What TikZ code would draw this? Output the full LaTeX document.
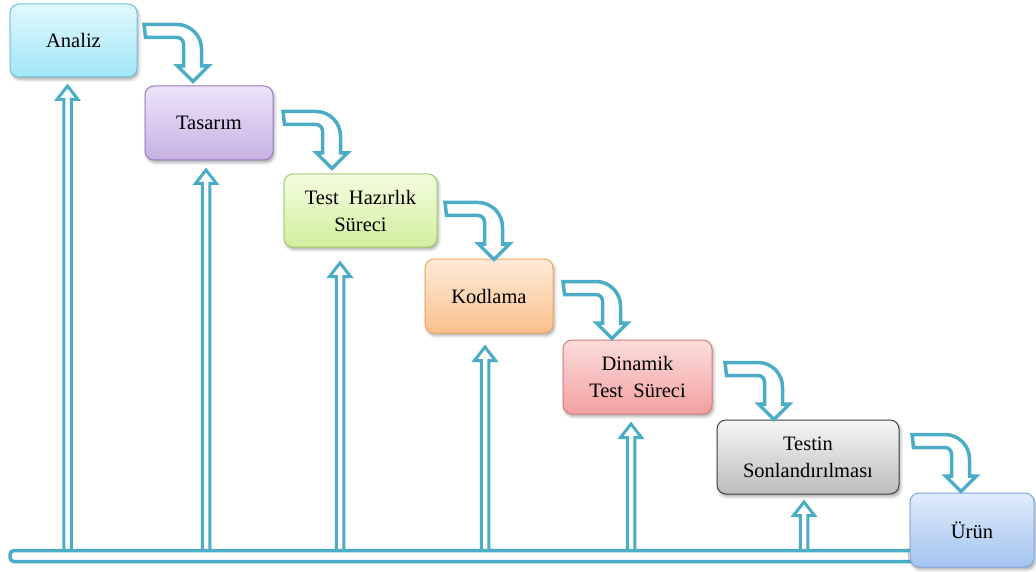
\documentclass[tikz,border=0pt]{standalone}
\usepackage{fontspec}
\setmainfont{Liberation Serif}
\usetikzlibrary{calc,shadows.blur}

\definecolor{flow}{HTML}{4BACC6}
\definecolor{anaTop}{HTML}{E2F8FE}\definecolor{anaBot}{HTML}{A2E6F8}\definecolor{anaLine}{HTML}{6CC3D9}
\definecolor{tasTop}{HTML}{EDE5FA}\definecolor{tasBot}{HTML}{C6B0E2}\definecolor{tasLine}{HTML}{9A7BC2}
\definecolor{hazTop}{HTML}{F3FCE0}\definecolor{hazBot}{HTML}{D2EF9E}\definecolor{hazLine}{HTML}{A6CB68}
\definecolor{kodTop}{HTML}{FEEBD8}\definecolor{kodBot}{HTML}{FBC08C}\definecolor{kodLine}{HTML}{F2A660}
\definecolor{dinTop}{HTML}{FCDCDC}\definecolor{dinBot}{HTML}{F2A0A0}\definecolor{dinLine}{HTML}{D07E7E}
\definecolor{sonTop}{HTML}{F6F6F6}\definecolor{sonBot}{HTML}{BCBCBC}\definecolor{sonLine}{HTML}{404040}
\definecolor{urnTop}{HTML}{E0ECFC}\definecolor{urnBot}{HTML}{A4C4F0}\definecolor{urnLine}{HTML}{7EA6DA}

\tikzset{
  stage/.style={draw, line width=1pt, rounded corners=9pt, inner sep=0pt,
    align=center, font=\fontsize{20.5}{27}\selectfont,
    blur shadow={shadow xshift=1.5pt, shadow yshift=-2.5pt,
      shadow blur radius=3pt, shadow opacity=35}},
  stagecol/.style n args={3}{top color=#1, bottom color=#2, draw=#3},
  flowline/.style={draw=flow, line width=3.5pt, fill=white, line join=miter},
  feedback/.style={draw=flow, line width=3pt, line join=miter},
  base/.style={draw=flow, line width=3.5pt, fill=white, rounded corners=4pt,
    inner sep=0pt},
  bentarrow/.pic={
    \path[flowline] (0,1.5) -- (33,1.5)
      arc[start angle=270, end angle=360, radius=24.5]
      -- (57.5,43) -- (64.5,43) -- (49,58.5) -- (33.5,43) -- (39.5,43)
      -- (39.5,21) arc[start angle=0, end angle=-90, radius=6.5]
      -- (1.5,14.5) -- cycle;
  }
}

\begin{document}
\begin{tikzpicture}[x=1pt, y=-1pt]
  \useasboundingbox (0,0) rectangle (1036,572);

  % common base line
  \node[base, minimum width=915, minimum height=11] (base) at (467.5,556) {};

  % process stages
  \node[stage, stagecol={anaTop}{anaBot}{anaLine}, minimum width=127, minimum height=73]
    (analiz) at (73.5,40.5) {Analiz};
  \node[stage, stagecol={tasTop}{tasBot}{tasLine}, minimum width=128, minimum height=74]
    (tasarim) at (209,123) {Tasarım};
  \node[stage, stagecol={hazTop}{hazBot}{hazLine}, minimum width=153, minimum height=73]
    (hazirlik) at (360.5,210.5) {Test\ \ Hazırlık\\Süreci};
  \node[stage, stagecol={kodTop}{kodBot}{kodLine}, minimum width=128, minimum height=74]
    (kodlama) at (489,296) {Kodlama};
  \node[stage, stagecol={dinTop}{dinBot}{dinLine}, minimum width=149, minimum height=74]
    (dinamik) at (637.5,377) {Dinamik\\Test\ \ Süreci};
  \node[stage, stagecol={sonTop}{sonBot}{sonLine}, minimum width=182, minimum height=74]
    (sonlandirma) at (808,457) {Testin\\Sonlandırılması};
  \node[stage, stagecol={urnTop}{urnBot}{urnLine}, minimum width=124, minimum height=74]
    (urun) at (972,530) {Ürün};

  % bent arrows between consecutive stages
  \coordinate (b1) at (144,23);
  \coordinate (b2) at (283,110);
  \coordinate (b3) at (445,201);
  \coordinate (b4) at (563,280);
  \coordinate (b5) at (725,361);
  \coordinate (b6) at (912,433);
  \foreach \b in {b1,b2,b3,b4,b5,b6} { \pic at (\b) {bentarrow}; }

  % feedback arrows rising from the base line
  \coordinate (t1) at ($(analiz.south)+(-6,7)$);
  \coordinate (t2) at ($(tasarim.south)+(-3,8)$);
  \coordinate (t3) at ($(hazirlik.south)+(-20.5,14)$);
  \coordinate (t4) at ($(kodlama.south)+(-4,12)$);
  \coordinate (t5) at ($(dinamik.south)+(-6.5,8)$);
  \coordinate (t6) at ($(sonlandirma.south)+(-4,6)$);
  \foreach \t in {t1,t2,t3,t4,t5,t6} {
    \path[feedback]
      ($(\t |- base.north)+(-3.75,0)$) -- ($(\t)+(-3.75,15)$)
      -- ($(\t)+(-10.5,15)$) -- ($(\t)+(0,1.5)$) -- ($(\t)+(10.5,15)$)
      -- ($(\t)+(3.75,15)$) -- ($(\t |- base.north)+(3.75,0)$);
  }
\end{tikzpicture}
\end{document}
